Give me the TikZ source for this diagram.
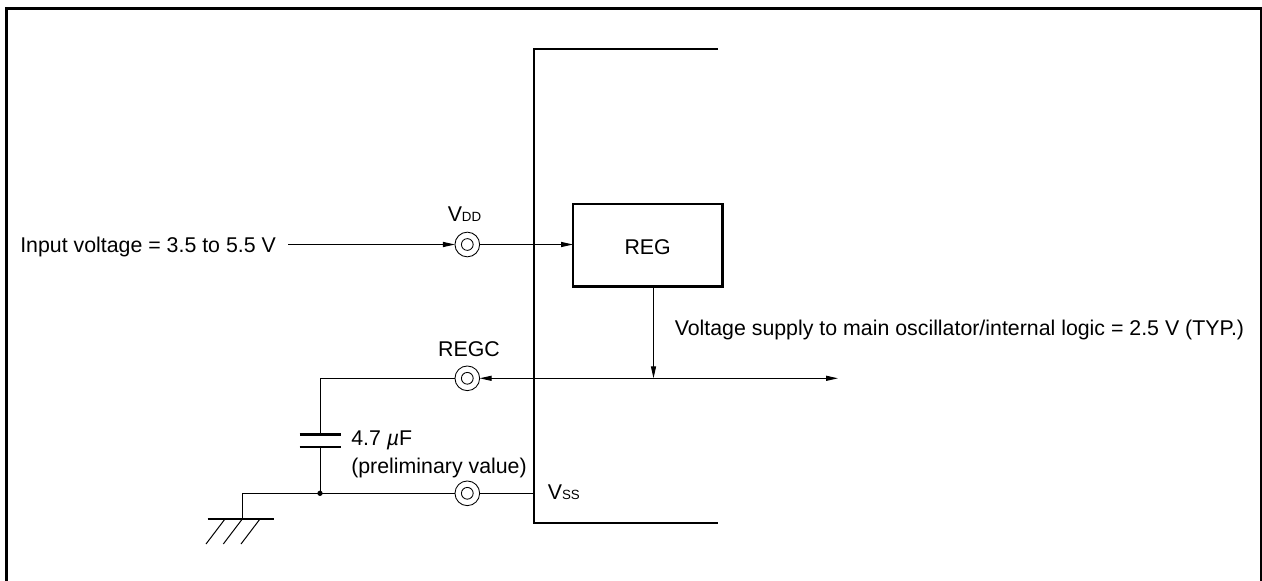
\documentclass[tikz,border=0pt]{standalone}
\usepackage{fontspec}
\setmainfont{Liberation Sans}
\usepackage{tikz}
\usetikzlibrary{arrows.meta, positioning}

\begin{document}
\begin{tikzpicture}[
  x=0.75pt, y=-0.75pt,
  %--- style definitions ---
  lbl/.style       = {inner sep=0pt, font=\fontsize{16}{20.3}\selectfont, align=left},
  chipline/.style  = {line width=2.2pt},
  wire/.style      = {line width=0.75pt},
  arrow/.style     = {wire, -{Triangle[length=9pt,width=3.8pt]}},
  plate/.style     = {line width=2pt},
  pin/.style       = {circle, draw, line width=0.65pt, minimum size=18.5pt, inner sep=0pt, outer sep=0pt,
                      path picture={\draw[line width=0.65pt] (path picture bounding box.center) circle (4.4pt);}},
  regbox/.style    = {rectangle, draw, line width=2pt, inner sep=0pt, outer sep=0pt, anchor=north west,
                      minimum width=112pt, minimum height=62pt, text height=13pt, text depth=0pt,
                      font=\fontsize{16}{20}\selectfont},
]
\useasboundingbox (0,0) rectangle (1262,581);

%% frame
\draw[line width=2.2pt] (6.3,581) -- (6.3,8.5) -- (1260.8,8.5);
\draw[line width=1.5pt] (1260.8,7) -- (1260.8,581);

%% chip outline
\coordinate (chiptop) at (718,49);
\coordinate (chipbot) at (718,523);
\draw[chipline] (chiptop) -| (534,523) -- (chipbot);

%% pins
\node[pin] (vdd)  at (467.3,244.5) {};
\node[pin] (regc) at (467.3,378.3) {};
\node[pin] (vss)  at (467.3,493.3) {};

\node[regbox] (reg) at (573,204) {REG};

%% labels
\node[lbl, anchor=west] (input) at (20,247) {Input voltage = 3.5 to 5.5 V};
\node[lbl, anchor=center] (vddlab) at (464.5,214.5) {V{\fontsize{10}{12}\selectfont DD}};
\node[lbl, anchor=center] (regclab) at (469,349) {REGC};
\node[lbl, anchor=west] (vsslab) at (547.5,492.5) {V{\fontsize{10}{12}\selectfont SS}};
\node[lbl, anchor=west] (supply) at (674.5,330) {Voltage supply to main oscillator/internal logic = 2.5 V (TYP.)};
\node[lbl, anchor=north west] (caplab) at (351,431) {4.7 \textit{µ}F\\(preliminary value)};

%% coordinates
\coordinate (tap) at (653.5,378.3);
\coordinate (out) at (838,378.3);
\coordinate (corner) at (320,378.3);
\coordinate (platea) at (320,434.3);
\coordinate (plateb) at (320,447);
\coordinate (dot) at (320,493.3);
\coordinate (gndtop) at (242.3,493.3);
\coordinate (gnd) at (242.3,519);
\coordinate (instart) at (288,244.5);

%% arrows
\draw[arrow] (instart) -- (vdd.west);
\draw[arrow] (vdd.east) -- (vdd.east -| reg.west);
\draw[arrow] (reg.south -| tap) -- (tap);
\draw[arrow] (tap) -- (regc.east);
\draw[arrow] (tap) -- (out);

%% capacitor
\draw[wire] (regc.west) -- (corner) -- (platea);
\draw[wire] (plateb) -- (dot);
\draw[plate] (299.5,434.3) -- (341,434.3);
\draw[plate] (299.5,447) -- (341,447);
\fill (dot) circle (2pt);

%% ground
\draw[wire] (vss.west) -- (gndtop) -- (gnd);
\draw[wire] (vss.east) -- (534,493.3);
\draw[plate] (207.7,519) -- (273.7,519);
\foreach \x in {225,242.3,260}
  \draw[wire] (\x,519) -- ++(-19,25);
\end{tikzpicture}
\end{document}
